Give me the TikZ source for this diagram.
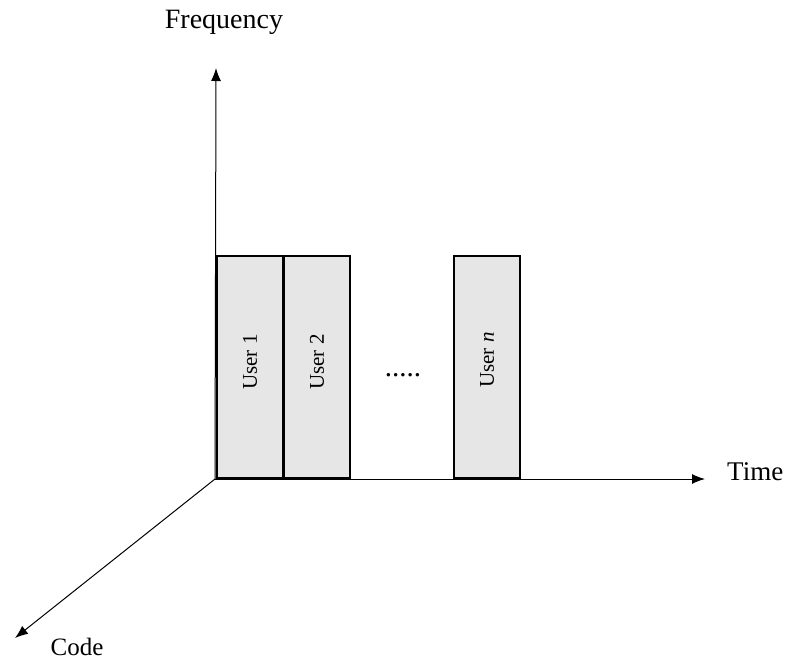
\documentclass[tikz,border=0pt]{standalone}
\usepackage{fontspec}
\setmainfont{Liberation Serif}
\usetikzlibrary{arrows.meta}
\definecolor{boxgray}{HTML}{E6E6E6}
\tikzset{
  axis/.style={line width=1pt,-{Latex[length=13pt,width=10pt]}},
  userbox/.style={draw=black,line width=2pt,fill=boxgray,minimum width=66pt,minimum height=222pt,inner sep=0pt,anchor=south west},
  usertext/.style={rotate=90,font=\fontsize{21}{25}\selectfont},
  axlabel/.style={font=\fontsize{26}{30}\selectfont,inner sep=0pt}
}
\begin{document}
\begin{tikzpicture}[x=1pt,y=-1pt]
\useasboundingbox (0,0) rectangle (787,662);
\coordinate (O) at (215,479);
\coordinate (F) at (216,68);
\coordinate (T) at (705,479);
\coordinate (C) at (15,638);
\draw[axis] (O) -- (F);
\draw[axis] (O) -- (T);
\draw[axis] (O) -- (C);
\node[userbox] (u1) at (216,479) {};
\node[userbox] (u2) at (283,479) {};
\node[userbox] (un) at (453,479) {};
\node[usertext] at ([yshift=5pt]u1.center) {User 1};
\node[usertext] at ([yshift=5pt]u2.center) {User 2};
\node[usertext] at ([yshift=7pt]un.center) {User \textit{n}};
\node[font=\fontsize{29}{32}\selectfont] (dots) at (403,375) {.....};
\node[axlabel,font=\fontsize{27}{30}\selectfont,anchor=west] (tl) at (727,472) {Time};
\node[axlabel,font=\fontsize{28}{32}\selectfont] (fl) at (224,22) {Frequency};
\node[axlabel,font=\fontsize{25}{30}\selectfont] (cl) at (77,647) {Code};
\end{tikzpicture}
\end{document}
